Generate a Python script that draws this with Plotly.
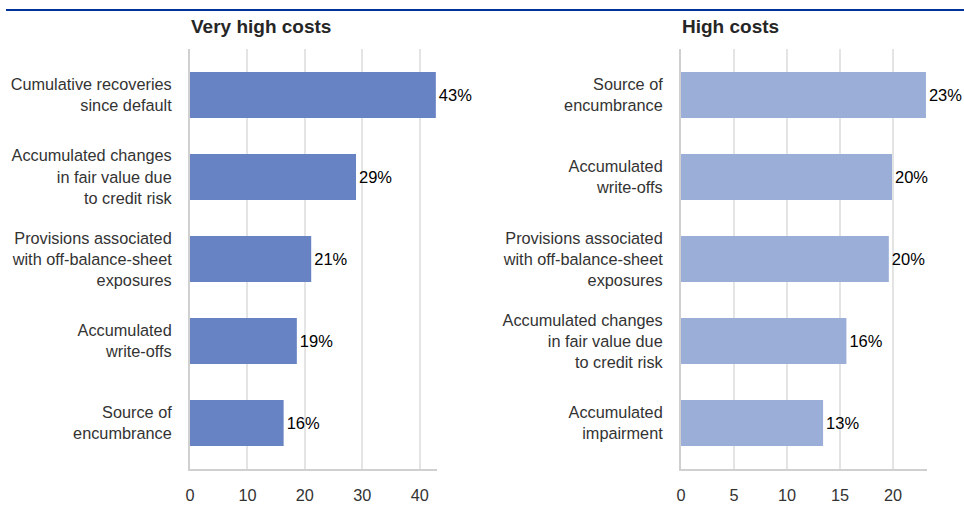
import plotly.graph_objects as go

# Very high costs panel
left_categories = [
    "Cumulative recoveries<br>since default",
    "Accumulated changes<br>in fair value due<br>to credit risk",
    "Provisions associated<br>with off-balance-sheet<br>exposures",
    "Accumulated<br>write-offs",
    "Source of<br>encumbrance",
]
left_values = [42.8, 28.9, 21.1, 18.6, 16.3]

# High costs panel
right_categories = [
    "Source of<br>encumbrance",
    "Accumulated<br>write-offs",
    "Provisions associated<br>with off-balance-sheet<br>exposures",
    "Accumulated changes<br>in fair value due<br>to credit risk",
    "Accumulated<br>impairment",
]
right_values = [23.1, 19.9, 19.6, 15.6, 13.4]

left_ticks = [0, 10, 20, 30, 40]
right_ticks = [0, 5, 10, 15, 20]

FONT = "Liberation Sans, Arial, sans-serif"
W, H = 964, 508
LABEL_SIZE = 16.3

fig = go.Figure()

fig.add_trace(go.Bar(
    x=left_values, y=left_categories, orientation="h",
    marker=dict(color="#6783c3", line=dict(width=0)),
    texttemplate="%{x:.0f}%", textposition="outside", cliponaxis=False,
    constraintext="none",
    textfont=dict(family=FONT, size=16.5, color="#000000"),
    xaxis="x", yaxis="y", hoverinfo="skip", showlegend=False,
))
fig.add_trace(go.Bar(
    x=right_values, y=right_categories, orientation="h",
    marker=dict(color="#9aaed8", line=dict(width=0)),
    texttemplate="%{x:.0f}%", textposition="outside", cliponaxis=False,
    constraintext="none",
    textfont=dict(family=FONT, size=16.5, color="#000000"),
    xaxis="x2", yaxis="y2", hoverinfo="skip", showlegend=False,
))

y_dom = [1 - 469 / H, 1 - 49 / H]

common_x = dict(
    showgrid=True, gridcolor="#e4e4e4", gridwidth=1.5,
    showline=True, linecolor="#d0d0d0", linewidth=2,
    zeroline=False, ticks="", ticklabelstandoff=10, automargin=False,
    tickfont=dict(family=FONT, size=LABEL_SIZE, color="#333333"),
)
common_y = dict(
    showgrid=False, showline=True, linecolor="#d0d0d0", linewidth=2,
    ticks="", ticklabelstandoff=13, automargin=False,
    range=[4.56, -0.56],
    tickfont=dict(family=FONT, size=LABEL_SIZE, color="#333333"),
    domain=y_dom,
)

fig.update_layout(
    width=W, height=H,
    margin=dict(l=0, r=0, t=0, b=0, autoexpand=False),
    paper_bgcolor="white", plot_bgcolor="white",
    bargap=0.44,
    font=dict(family=FONT, color="#333333"),
    xaxis={**common_x, "domain": [190 / W, 437 / W], "range": [0, 43.0],
           "tickvals": left_ticks, "anchor": "y"},
    yaxis={**common_y, "anchor": "x"},
    xaxis2={**common_x, "domain": [681 / W, 927 / W], "range": [0, 23.2],
            "tickvals": right_ticks, "anchor": "y2"},
    yaxis2={**common_y, "anchor": "x2"},
    shapes=[dict(type="line", xref="paper", yref="paper",
                 x0=6 / W, x1=1, y0=1 - 10 / H, y1=1 - 10 / H,
                 line=dict(color="#003299", width=2))],
    annotations=[
        dict(text="<b>Very high costs</b>", xref="paper", yref="paper",
             x=189 / W, y=1 - 26 / H, xanchor="left", yanchor="middle",
             showarrow=False, font=dict(family=FONT, size=19, color="#262626")),
        dict(text="<b>High costs</b>", xref="paper", yref="paper",
             x=680 / W, y=1 - 26 / H, xanchor="left", yanchor="middle",
             showarrow=False, font=dict(family=FONT, size=19, color="#262626")),
    ],
)

fig.write_html("out.html")
